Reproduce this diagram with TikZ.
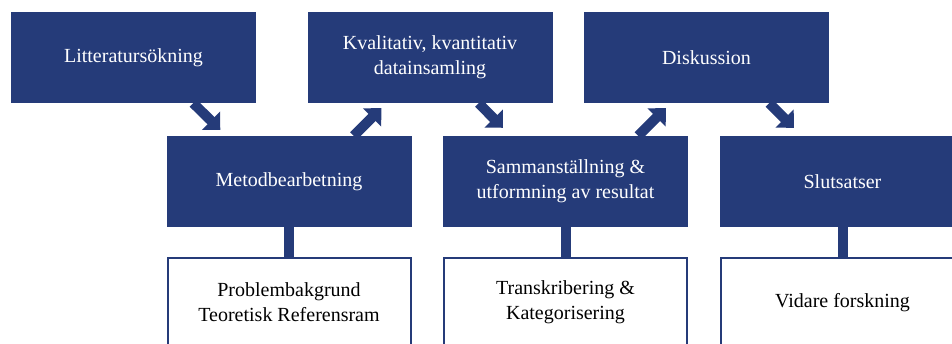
\documentclass[tikz,border=0pt]{standalone}
\usepackage{fontspec}
\setmainfont{Liberation Serif}
\usetikzlibrary{arrows.meta,calc}
\definecolor{navy}{RGB}{37,59,121}
\tikzset{
  stepfill/.style={fill=navy,text=white,minimum width=245pt,minimum height=91pt,
    inner sep=0pt,align=center},
  notebox/.style={draw=navy,line width=2pt,fill=white,text=black,minimum width=243pt,
    minimum height=89pt,inner sep=0pt,align=center},
  flowarrow/.style={draw=navy,line width=10pt,-{Triangle[length=13pt,width=25pt]}},
  stem/.style={draw=navy,line width=10pt},
  every picture/.style={font=\fontsize{20}{25}\selectfont}
}

\begin{document}
\begin{tikzpicture}[x=1pt,y=-1pt]
  \useasboundingbox (0,0) rectangle (952,344);
  \node[stepfill] (litt) at (133.5,57.5) {Litteratursökning};
  \node[stepfill] (kval) at (430,57.5) {Kvalitativ, kvantitativ\\datainsamling};
  \node[stepfill] (disk) at (706.5,57.5) {Diskussion};
  \node[stepfill] (metod) at (289,181.5) {Metodbearbetning};
  \node[stepfill] (samm) at (565.5,181.5) {Sammanställning \&\\utformning av resultat};
  \node[stepfill] (slut) at (842.5,181.5) {Slutsatser};
  \node[notebox] (prob) at (289,302.5) {Problembakgrund\\Teoretisk Referensram};
  \node[notebox] (trans) at (565.5,302.5) {Transkribering \&\\Kategorisering};
  \node[notebox] (vidare) at (842.5,302.5) {Vidare forskning};
  % diagonal steps between the two rows
  \draw[flowarrow] ($(litt.south east)+(-63,0)$) -- ($(metod.north west)+(54,-6)$);
  \draw[flowarrow] ($(metod.north east)+(-58,0)$) -- ($(kval.south west)+(74,5)$);
  \draw[flowarrow] ($(kval.south east)+(-74,0)$) -- ($(samm.north west)+(60,-8)$);
  \draw[flowarrow] ($(samm.north east)+(-50,0)$) -- ($(disk.south west)+(82,5)$);
  \draw[flowarrow] ($(disk.south east)+(-60,0)$) -- ($(slut.north west)+(74,-8)$);
  \foreach \top/\low in {metod/prob,samm/trans,slut/vidare} {
    \draw[stem] (\top.south) -- (\low.north);
  }
\end{tikzpicture}
\end{document}
